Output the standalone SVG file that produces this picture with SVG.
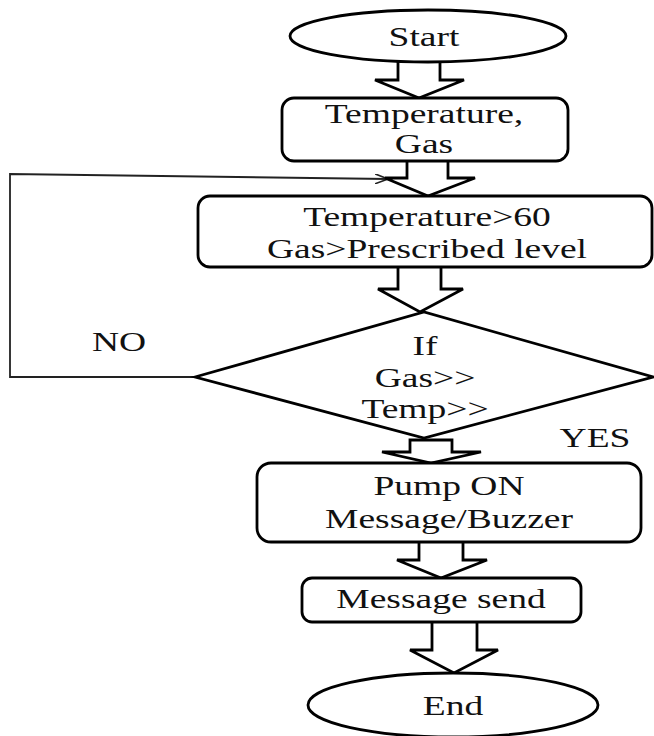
<svg xmlns="http://www.w3.org/2000/svg" width="654" height="736" viewBox="0 0 654 736">
<defs>
<style>
.shape{fill:#fff;stroke:#000;stroke-width:2.8}
.barrow{fill:#fff;stroke:#000;stroke-width:2.8;stroke-linejoin:miter}
.t{font-family:"Liberation Serif","Times New Roman",serif;font-size:28px;fill:#111;text-anchor:middle}
.line{fill:none;stroke:#222;stroke-width:1.8}
</style>
<marker id="open" viewBox="0 0 14 10" refX="13" refY="5" markerWidth="14" markerHeight="10" markerUnits="userSpaceOnUse" orient="auto">
<path d="M0,0 L13,5 L0,10" fill="none" stroke="#222" stroke-width="1.6"/>
</marker>
</defs>
<rect width="654" height="736" fill="#fff"/>
<g id="connectors">
<path class="line" d="M195,377 L10,377 L10,174 L388,179" marker-end="url(#open)"/>
<path class="barrow" d="M398,62 L398,80 L375,80 L419,98 L464,80 L440,80 L440,62"/>
<path class="barrow" d="M407,161 L407,178 L385,178 L428,196 L475,178 L448,178 L448,161"/>
<path class="barrow" d="M398,267 L398,289 L378,289 L420,312 L463,289 L441,289 L441,267"/>
<path class="barrow" d="M410,440 L410,452 L382,452 L431,463 L481,452 L452,452 L452,440 Z"/>
<path class="barrow" d="M419,542 L419,560 L397,560 L441,578 L487,560 L463,560 L463,542"/>
<path class="barrow" d="M432,622 L432,650 L410,650 L454,673 L498,650 L477,650 L477,622"/>
</g>
<g id="start">
<ellipse class="shape" cx="428" cy="36" rx="138" ry="26"/>
<text class="t" transform="translate(424 46) scale(1.34 1)">Start</text>
</g>
<g id="input">
<rect class="shape" x="282" y="98" width="286" height="63" rx="12"/>
<text class="t" transform="translate(424 123) scale(1.34 1)">Temperature,</text>
<text class="t" transform="translate(424 153) scale(1.34 1)">Gas</text>
</g>
<g id="check">
<rect class="shape" x="198" y="196" width="454" height="71" rx="12"/>
<text class="t" transform="translate(427 226) scale(1.34 1)">Temperature&gt;60</text>
<text class="t" transform="translate(427 258) scale(1.34 1)">Gas&gt;Prescribed level</text>
</g>
<g id="decision">
<path class="shape" d="M195,377 L424,312 L653,377 L424,438 Z"/>
<text class="t" transform="translate(425 355) scale(1.34 1)">If</text>
<text class="t" transform="translate(425 387) scale(1.34 1)">Gas&gt;&gt;</text>
<text class="t" transform="translate(425 418) scale(1.34 1)">Temp&gt;&gt;</text>
</g>
<g id="no-label">
<text class="t" transform="translate(119 351) scale(1.34 1)">NO</text>
</g>
<g id="yes-label">
<text class="t" transform="translate(595 447) scale(1.34 1)">YES</text>
</g>
<g id="pump">
<rect class="shape" x="257" y="463" width="384" height="79" rx="14"/>
<text class="t" transform="translate(449 495) scale(1.34 1)">Pump ON</text>
<text class="t" transform="translate(449 528) scale(1.34 1)">Message/Buzzer</text>
</g>
<g id="send">
<rect class="shape" x="302" y="578" width="279" height="44" rx="10"/>
<text class="t" transform="translate(441 608) scale(1.34 1)">Message send</text>
</g>
<g id="end">
<ellipse class="shape" cx="453" cy="705" rx="145" ry="32"/>
<text class="t" transform="translate(453 715) scale(1.34 1)">End</text>
</g>
</svg>
